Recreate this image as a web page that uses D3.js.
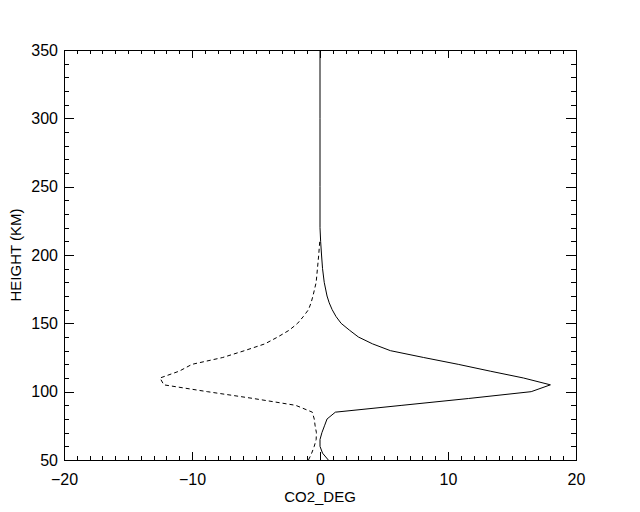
<!DOCTYPE html>
<html>
<head>
<meta charset="utf-8">
<script src="https://cdn.jsdelivr.net/npm/d3@7"></script>
<style>
  html, body { margin: 0; padding: 0; background: #fff; }
  svg { display: block; }
  text { font-family: "Liberation Sans", Arial, sans-serif; fill: #000; }
</style>
</head>
<body>
<script>
// ---- data ----
const heights = [50,55,60,65,70,75,80,85,90,95,100,105,110,115,120,125,130,135,140,145,150,155,160,165,170,180,190,200,210,220,230,250,300,350];
const solidValues = [0.65,0.2,0.0,0.0,0.15,0.35,0.55,1.2,6.4,11.6,16.5,18.0,15.9,13.3,10.8,8.1,5.5,4.1,3.0,2.3,1.65,1.25,0.95,0.72,0.55,0.33,0.2,0.12,0.05,0,0,0,0,0];
const dashedValues = [-0.9,-0.65,-0.45,-0.3,-0.28,-0.38,-0.45,-0.6,-1.9,-5.2,-8.8,-12.2,-12.5,-11.0,-10.0,-7.6,-5.9,-4.3,-3.3,-2.4,-1.75,-1.3,-0.9,-0.7,-0.55,-0.3,-0.2,-0.1,-0.02,0,0,0,0,0];
const xMajorTicks = [-20,-10,0,10,20];
const yMajorTicks = [50,100,150,200,250,300,350];
const xTitle = "CO2_DEG";
const yTitle = "HEIGHT (KM)";

const W = 640, H = 512;
const L = 64, R = 576, T = 50, B = 460;

const svg = d3.select("body").append("svg").attr("width", W).attr("height", H);

const x = d3.scaleLinear().domain([-20, 20]).range([L, R]);
const y = d3.scaleLinear().domain([50, 350]).range([B, T]);

const xMinor = d3.range(-20, 20.001, 1).filter(v => !xMajorTicks.includes(v));
const yMinor = d3.range(50, 350.001, 10).filter(v => !yMajorTicks.includes(v));

const fmt = v => (v < 0 ? "\u2212" + Math.abs(v) : String(v));

function styleAxis(g) {
  g.select(".domain").remove();
  g.selectAll("line").attr("stroke", "#000").attr("shape-rendering", "crispEdges");
  g.selectAll("text").style("font-size", "16px").attr("fill", "#000");
}

// bottom
svg.append("g").attr("transform", `translate(0,${B})`)
  .call(d3.axisBottom(x).tickValues(xMajorTicks).tickSize(-8).tickSizeOuter(0).tickPadding(14).tickFormat(fmt))
  .call(styleAxis).call(g => g.attr("font-family", null));
svg.append("g").attr("transform", `translate(0,${B})`)
  .call(d3.axisBottom(x).tickValues(xMinor).tickSize(-4).tickSizeOuter(0).tickFormat(""))
  .call(styleAxis);
// top
svg.append("g").attr("transform", `translate(0,${T})`)
  .call(d3.axisTop(x).tickValues(xMajorTicks).tickSize(-8).tickSizeOuter(0).tickFormat(""))
  .call(styleAxis);
svg.append("g").attr("transform", `translate(0,${T})`)
  .call(d3.axisTop(x).tickValues(xMinor).tickSize(-4).tickSizeOuter(0).tickFormat(""))
  .call(styleAxis);
// left
svg.append("g").attr("transform", `translate(${L},0)`)
  .call(d3.axisLeft(y).tickValues(yMajorTicks).tickSize(-10).tickSizeOuter(0).tickPadding(6).tickFormat(d3.format("d")))
  .call(styleAxis).call(g => g.attr("font-family", null));
svg.append("g").attr("transform", `translate(${L},0)`)
  .call(d3.axisLeft(y).tickValues(yMinor).tickSize(-5).tickSizeOuter(0).tickFormat(""))
  .call(styleAxis);
// right
svg.append("g").attr("transform", `translate(${R},0)`)
  .call(d3.axisRight(y).tickValues(yMajorTicks).tickSize(-10).tickSizeOuter(0).tickFormat(""))
  .call(styleAxis);
svg.append("g").attr("transform", `translate(${R},0)`)
  .call(d3.axisRight(y).tickValues(yMinor).tickSize(-5).tickSizeOuter(0).tickFormat(""))
  .call(styleAxis);

// frame
svg.append("rect")
  .attr("x", L + 0.5).attr("y", T + 0.5)
  .attr("width", R - L).attr("height", B - T)
  .attr("fill", "none").attr("stroke", "#000").attr("stroke-width", 1)
  .attr("shape-rendering", "crispEdges");

// lines
const dashedData = heights.map((h, i) => ({ h, v: dashedValues[i] })).filter(d => d.h <= 215);
const solidData = heights.map((h, i) => ({ h, v: solidValues[i] }));
const line = d3.line().x(d => x(d.v)).y(d => y(d.h));

const clip = svg.append("clipPath").attr("id", "plotclip")
  .append("rect").attr("x", L).attr("y", T).attr("width", R - L + 1).attr("height", B - T + 1);

svg.append("path").datum(dashedData)
  .attr("d", line).attr("fill", "none").attr("stroke", "#000").attr("stroke-width", 1)
  .attr("stroke-dasharray", "4,3").attr("clip-path", "url(#plotclip)");
svg.append("path").datum(solidData)
  .attr("d", line).attr("fill", "none").attr("stroke", "#000").attr("stroke-width", 1)
  .attr("clip-path", "url(#plotclip)");

// titles
svg.append("text").attr("x", (L + R) / 2).attr("y", 502)
  .attr("text-anchor", "middle").style("font-size", "15px").text(xTitle);
svg.append("text").attr("transform", `translate(21,${(T + B) / 2}) rotate(-90)`)
  .attr("text-anchor", "middle").style("font-size", "15px").text(yTitle);
</script>
</body>
</html>
